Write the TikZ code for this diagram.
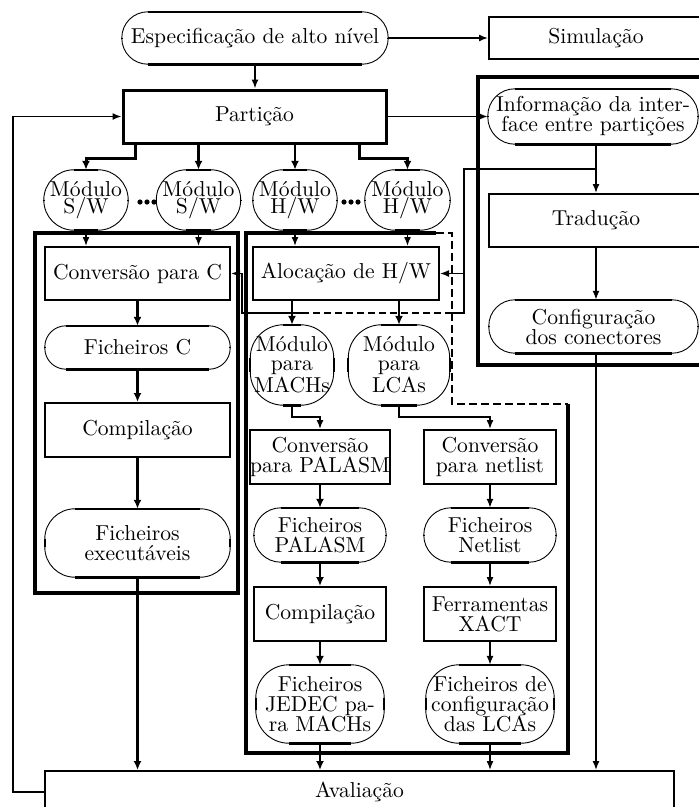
\documentclass[tikz,border=0pt]{standalone}
\usepackage{graphicx}
\usetikzlibrary{arrows.meta,calc}
% text set at 10pt design size, magnified like the original drawing
\newcommand\T[2][9.26]{\scalebox{2.16}{\fontsize{10}{#1}\selectfont\vbox{\halign{\hfil##\hfil\cr#2\crcr}}}}
\tikzset{
  box/.style={draw, line width=2pt, inner sep=0pt, align=center},
  ovalnode/.style={inner sep=0pt, align=center},
  conn/.style={line width=1.5pt, -{Latex[length=9pt,width=7pt]}},
  mconn/.style={line width=2.5pt, -{Latex[length=9pt,width=8pt]}},
  tconn/.style={line width=3pt, -{Latex[length=9pt,width=8pt]}},
  plain/.style={line width=1.5pt},
  section/.style={line width=3.5pt},
  dsection/.style={line width=2.8pt, dash pattern=on 8pt off 4pt},
}
\begin{document}
\begin{tikzpicture}[x=1pt,y=-1pt]
\clip (0,0) rectangle (699,807);
\fill[white] (0,0) rectangle (699,807);

% section frames
\draw[section] (35,233) rectangle (238,593);
\draw[section] (436,233) -- (246,233) -- (246,753) -- (568,753) -- (568,404);
\draw[dsection] (436,233) -- (452,233) -- (452,404) -- (568,404);
\draw[section] (720,77) -- (478,77) -- (478,365) -- (720,365);

% nodes
\node[ovalnode, minimum width=266pt, minimum height=52pt] (esp) at (255,38) {\T{Especificação de alto nível}};
\node[box, minimum width=214pt, minimum height=42pt] (sim) at (596,38) {\T{Simulação}};
\node[box, line width=3pt, minimum width=263pt, minimum height=53pt] (part) at (254.5,116.5) {\T{Partição}};
\node[ovalnode, minimum width=210pt, minimum height=55pt] (info) at (593,116.5) {\T{Informação da inter-\cr face entre partições}};
\node[box, minimum width=214pt, minimum height=53pt] (trad) at (596,220.5) {\T{Tradução}};
\node[ovalnode, minimum width=209pt, minimum height=53pt] (conf) at (593.5,326.5) {\T{Configuração\cr dos conectores}};

\node[ovalnode, minimum width=84pt, minimum height=60pt] (m1) at (86,200) {\T[7.95]{Módulo\cr S/W}};
\node[ovalnode, minimum width=84pt, minimum height=60pt] (m2) at (198.5,200) {\T[7.95]{Módulo\cr S/W}};
\node[ovalnode, minimum width=84pt, minimum height=60pt] (m3) at (295,200) {\T[7.95]{Módulo\cr H/W}};
\node[ovalnode, minimum width=85pt, minimum height=60pt] (m4) at (407.5,200) {\T[7.95]{Módulo\cr H/W}};

\node[box, minimum width=185pt, minimum height=53pt] (convc) at (137.5,273.5) {\T{Conversão para C}};
\node[box, minimum width=186pt, minimum height=53pt] (aloc) at (346,273.5) {\T{Alocação de H/W}};
\node[ovalnode, minimum width=185pt, minimum height=43pt] (ficc) at (137.5,347.5) {\T{Ficheiros C}};
\node[box, minimum width=185pt, minimum height=54pt] (compsw) at (137.5,430) {\T{Compilação}};
\node[ovalnode, minimum width=185pt, minimum height=68pt] (exec) at (137.5,543) {\T{Ficheiros\cr executáveis}};

\node[ovalnode, minimum width=83pt, minimum height=80pt] (mmach) at (292,365) {\T[8.74]{Módulo\cr para\cr MACHs}};
\node[ovalnode, minimum width=101pt, minimum height=80pt] (mlca) at (399,365) {\T[8.74]{Módulo\cr para\cr LCAs}};

\node[box, minimum width=137pt, minimum height=54pt] (convpal) at (320,457) {\T{Conversão\cr para PALASM}};
\node[box, minimum width=132pt, minimum height=54pt] (convnet) at (490,457) {\T{Conversão\cr para netlist}};
\node[ovalnode, minimum width=132pt, minimum height=54pt] (ficpal) at (320,535) {\T{Ficheiros\cr PALASM}};
\node[ovalnode, minimum width=132pt, minimum height=54pt] (ficnet) at (490,535) {\T{Ficheiros\cr Netlist}};
\node[box, minimum width=132pt, minimum height=54pt] (comphw) at (320,614) {\T{Compilação}};
\node[box, minimum width=132pt, minimum height=54pt] (xact) at (490,614) {\T{Ferramentas\cr XACT}};
\node[ovalnode, minimum width=128pt, minimum height=78pt] (jedec) at (320,704) {\T{Ficheiros\cr JEDEC pa-\cr ra MACHs}};
\node[ovalnode, minimum width=128pt, minimum height=78pt] (conflca) at (490,704) {\T{Ficheiros de\cr configuração\cr das LCAs}};

\node[box, minimum width=629pt, minimum height=42pt] (aval) at (359.5,792) {\T{Avaliação}};

% oval frames: thin corner arcs, thick straight parts
\foreach \n/\r in {esp/26, info/27, conf/26, m1/30, m2/30, m3/30, m4/30,
                   ficc/21, exec/30, mmach/33, mlca/33, ficpal/27, ficnet/27,
                   jedec/33, conflca/33}{
  \draw[line width=0.9pt, rounded corners=\r pt] (\n.south west) rectangle (\n.north east);
  \draw[line width=2.6pt] ([xshift=\r pt]\n.north west) -- ([xshift=-\r pt]\n.north east);
  \draw[line width=2.6pt] ([xshift=\r pt]\n.south west) -- ([xshift=-\r pt]\n.south east);
  \draw[line width=2.2pt] ([yshift=-\r pt]\n.north west) -- ([yshift=\r pt]\n.south west);
  \draw[line width=2.2pt] ([yshift=-\r pt]\n.north east) -- ([yshift=\r pt]\n.south east);
}

% dots between modules
\foreach \x in {140,147,154} \fill (\x,202) circle (2.6pt);
\foreach \x in {344,351,358} \fill (\x,202) circle (2.6pt);

% connectors
\draw[conn] (esp.east) -- (sim.west);
\draw[conn] (esp.south) -- (esp.south |- part.north);
\draw[conn] (part.east) -- (info.west);
\draw[tconn] ([xshift=14pt]part.south west) -- ++(0,14) -| (m1.north);
\draw[mconn] (part.south -| m2.north) -- (m2.north);
\draw[mconn] (part.south -| m3.north) -- (m3.north);
\draw[tconn] ([xshift=-28pt]part.south east) -- ++(0,14) -| (m4.north);

\draw[conn] (m1.south) -- (m1.south |- convc.north);
\draw[conn] (m2.south) -- (m2.south |- convc.north);
\draw[conn] (m3.south) -- (m3.south |- aloc.north);
\draw[conn] (m4.south) -- (m4.south |- aloc.north);

\draw[tconn] (convc.south) -- (ficc.north);
\draw[tconn] (ficc.south) -- (compsw.north);
\draw[tconn] (compsw.south) -- (exec.north);
\draw[tconn] (exec.south) -- (exec.south |- aval.north);

\draw[mconn] (mmach.north |- aloc.south) -- (mmach.north);
\draw[mconn] (mlca.north |- aloc.south) -- (mlca.north);
\draw[conn] (mmach.south) -- ++(0,12) -| (convpal.north);
\draw[conn] (mlca.south) -- ++(0,12) -| (convnet.north);

\draw[mconn] (convpal.south) -- (ficpal.north);
\draw[mconn] (ficpal.south) -- (comphw.north);
\draw[mconn] (comphw.south) -- (jedec.north);
\draw[mconn] (jedec.south) -- (jedec.south |- aval.north);
\draw[conn] (convnet.south) -- (ficnet.north);
\draw[conn] (ficnet.south) -- (xact.north);
\draw[conn] (xact.south) -- (conflca.north);
\draw[conn] (conflca.south) -- (conflca.south |- aval.north);

\draw[conn] (trad.north |- info.south) -- (trad.north);
\draw[conn] (trad.south) -- (trad.south |- conf.north);
\draw[conn] (trad.south |- conf.south) -- (trad.south |- aval.north);

% interface information fed to the conversion steps
\coordinate (j1) at (596,169);
\coordinate (j2) at (464,313);
\coordinate (d1) at (452,313);
\coordinate (d2) at (302,313);
\coordinate (j3) at (242,313);
\draw[plain] (j1) -| (j2) -- (d1);
\draw[line width=2pt, dash pattern=on 7pt off 4pt] (d1) -- (d2);
\draw[conn] (d2) -- (j3) |- (convc.east);
\draw[conn] (j2 |- aloc.east) -- (aloc.east);

% feedback
\coordinate (fb) at (13,450);
\draw[conn] (aval.west) -| (fb) |- (part.west);
\end{tikzpicture}
\end{document}
